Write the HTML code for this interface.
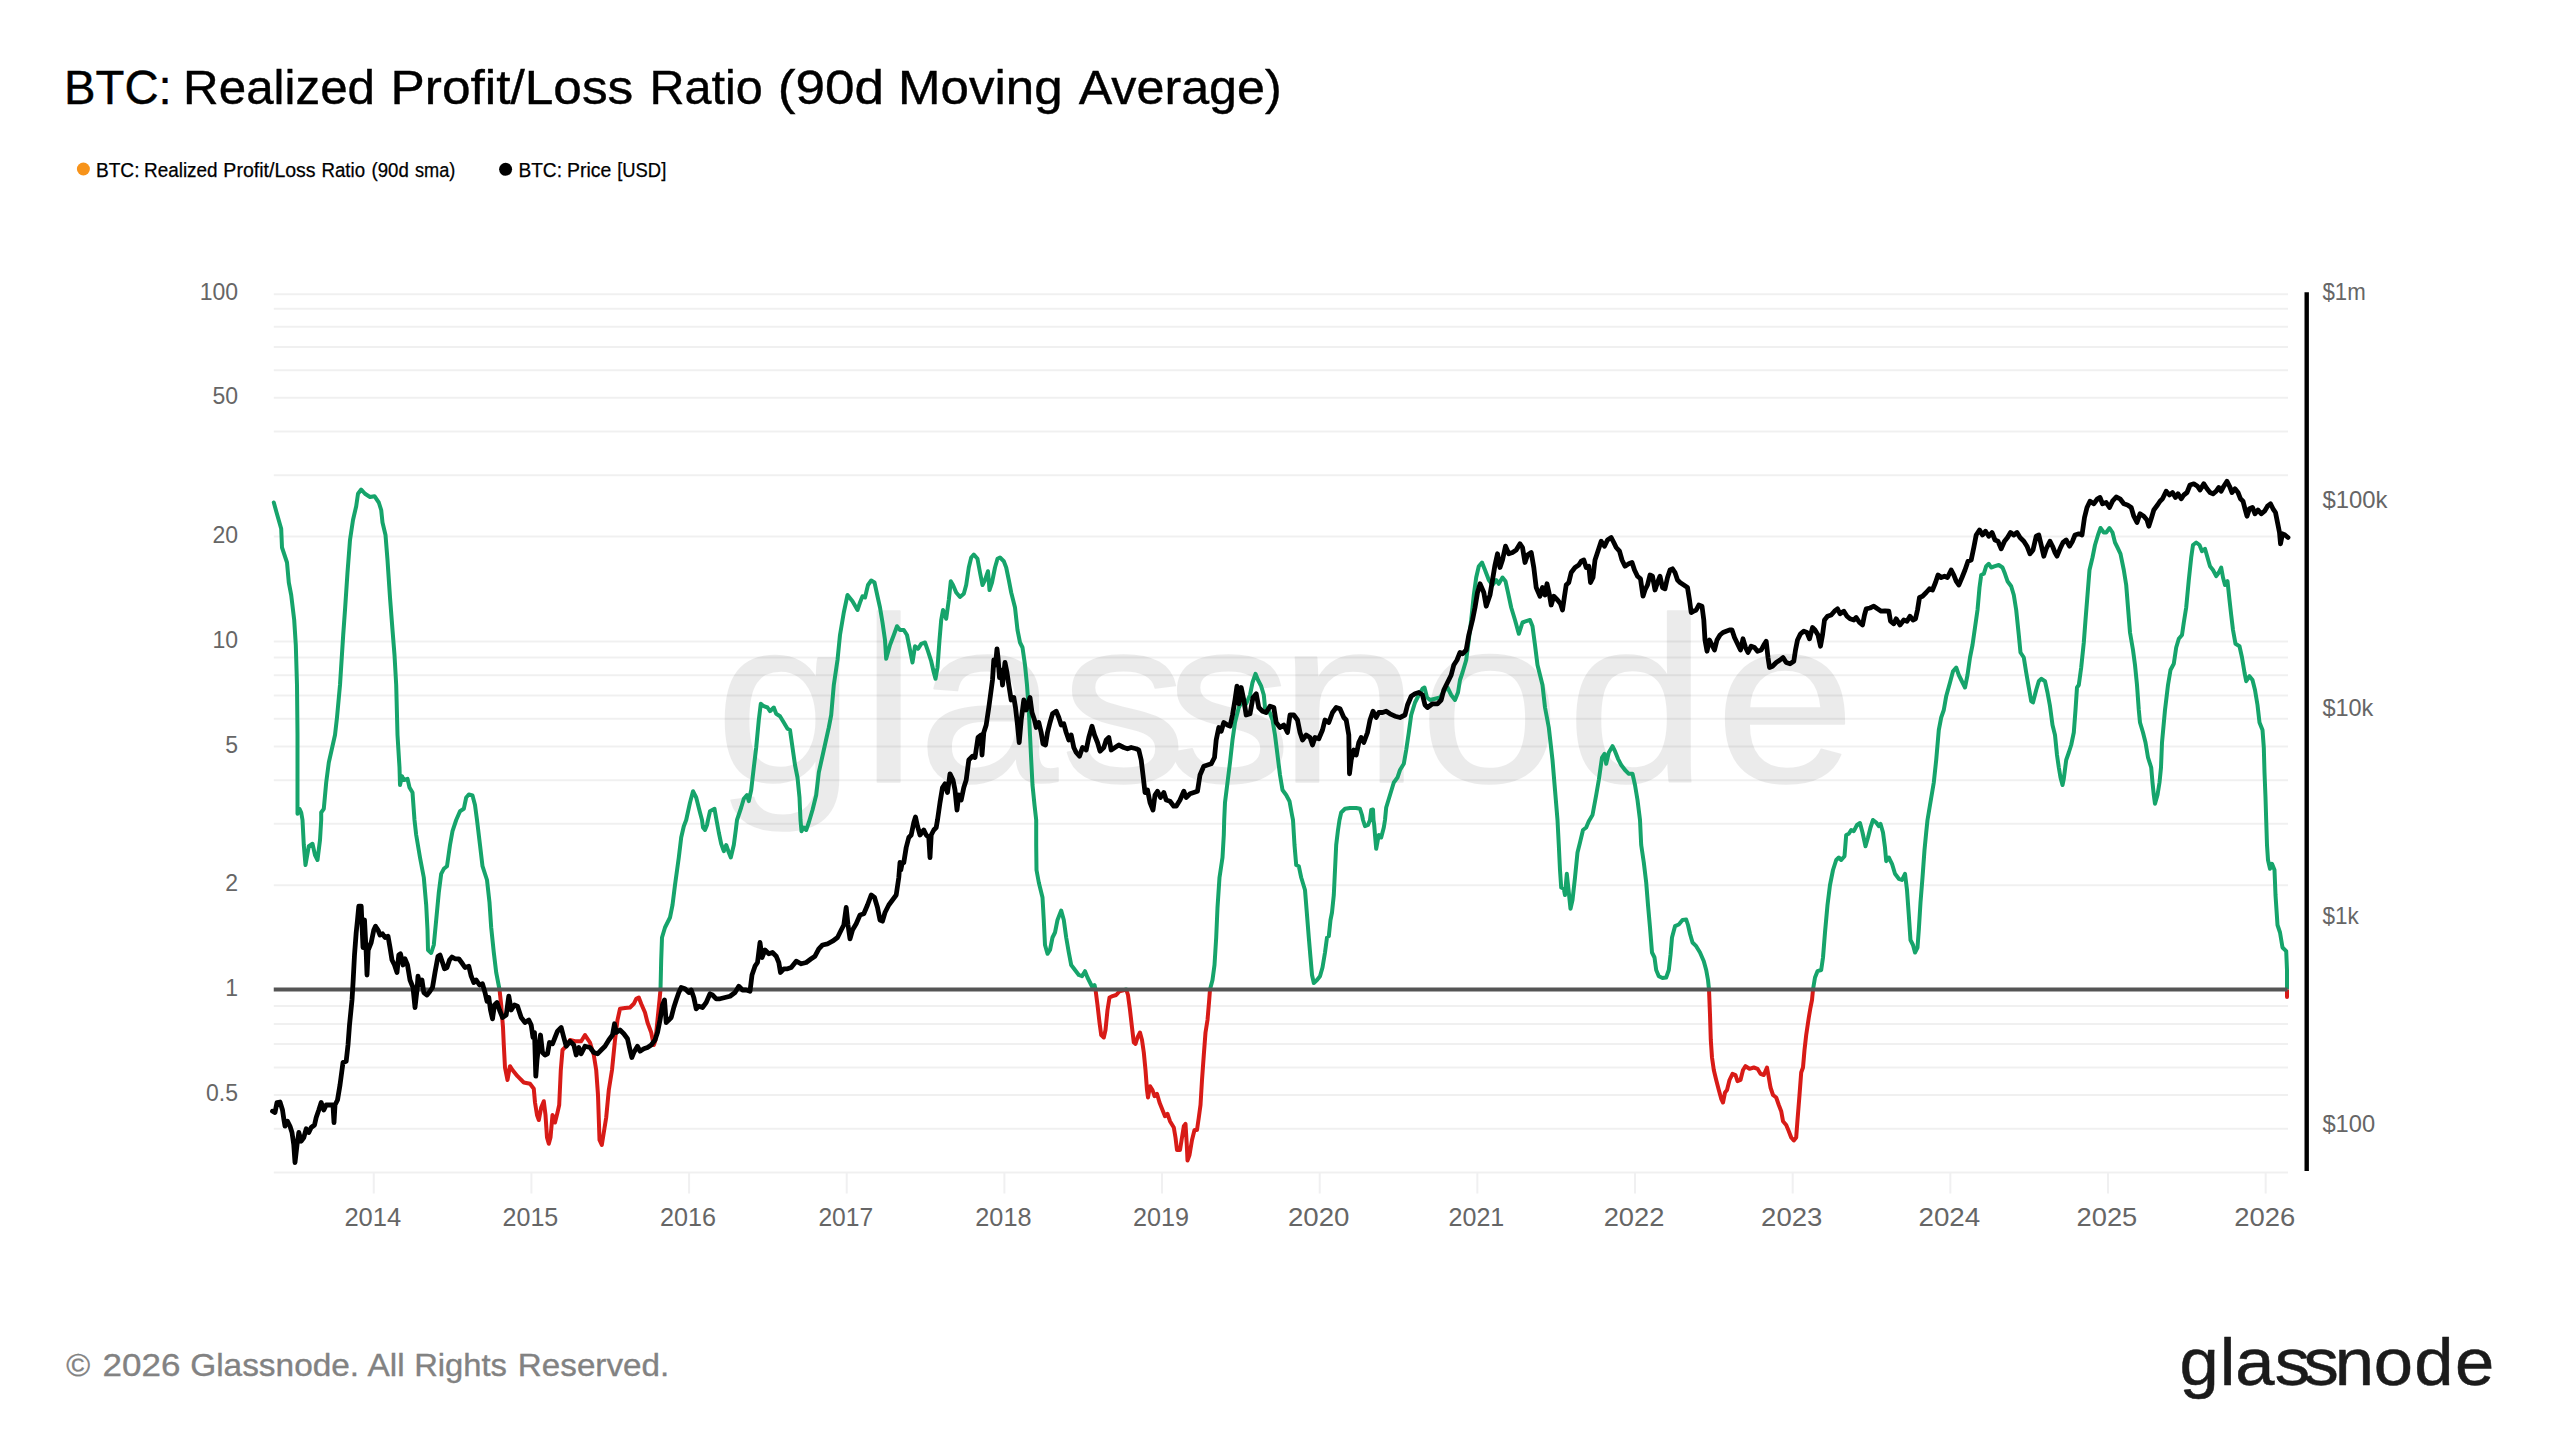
<!DOCTYPE html>
<html lang="en"><head><meta charset="utf-8"><title>BTC: Realized Profit/Loss Ratio (90d Moving Average)</title>
<style>html,body{margin:0;padding:0;background:#fff;width:2560px;height:1440px;overflow:hidden}</style></head>
<body>
<svg width="2560" height="1440" viewBox="0 0 2560 1440" style="position:absolute;left:0;top:0">
<rect width="2560" height="1440" fill="#ffffff"/>
<text x="668.3 804.2 857.4 991.2 1089.2 1195.1 1326.6 1464.0 1602.7" y="781.6" font-family="'Liberation Sans',sans-serif" font-size="236" fill="#000" stroke="#000" stroke-width="1.6" stroke-linejoin="round" opacity="0.075" transform="scale(1.07,1)">glassnode</text>
<path d="M273.75 294.30H2288.00 M273.75 308.85H2288.00 M273.75 326.68H2288.00 M273.75 346.90H2288.00 M273.75 370.24H2288.00 M273.75 397.84H2288.00 M273.75 431.62H2288.00 M273.75 475.18H2288.00 M273.75 536.56H2288.00 M273.75 641.50H2288.00 M273.75 657.45H2288.00 M273.75 675.28H2288.00 M273.75 695.50H2288.00 M273.75 718.84H2288.00 M273.75 746.44H2288.00 M273.75 780.22H2288.00 M273.75 823.78H2288.00 M273.75 885.16H2288.00 M273.75 1006.05H2288.00 M273.75 1023.88H2288.00 M273.75 1044.10H2288.00 M273.75 1067.44H2288.00 M273.75 1095.04H2288.00 M273.75 1128.82H2288.00 M273.75 1172.38H2288.00" stroke="#000" stroke-opacity="0.06" stroke-width="2" fill="none"/>
<path d="M373.75 1172.40V1193.50 M531.41 1172.40V1193.50 M689.07 1172.40V1193.50 M846.73 1172.40V1193.50 M1004.39 1172.40V1193.50 M1162.05 1172.40V1193.50 M1319.71 1172.40V1193.50 M1477.37 1172.40V1193.50 M1635.03 1172.40V1193.50 M1792.69 1172.40V1193.50 M1950.35 1172.40V1193.50 M2108.01 1172.40V1193.50 M2265.67 1172.40V1193.50" stroke="#f0f0f1" stroke-width="2" fill="none"/>
<defs><clipPath id="ca"><rect x="0" y="0" width="2560" height="989.5"/></clipPath><clipPath id="cb"><rect x="0" y="989.5" width="2560" height="450.5"/></clipPath></defs>
<path d="M273.8 502.5 L276.2 511.2 L281.2 528.8 L282.0 547.5 L287.0 562.5 L288.8 582.5 L291.2 595.0 L294.2 620.0 L295.8 645.0 L297.0 685.0 L297.5 735.0 L297.5 808.8 L297.5 813.8 L299.5 808.8 L301.2 812.5 L302.5 820.0 L303.8 845.0 L305.5 865.0 L308.8 846.2 L312.5 843.8 L315.0 855.0 L317.5 860.0 L320.0 840.0 L321.2 820.0 L321.2 812.5 L323.8 808.8 L326.2 782.5 L328.8 762.5 L335.0 735.0 L337.0 717.5 L340.0 685.0 L343.2 635.0 L345.0 610.0 L347.5 572.5 L350.0 540.0 L353.0 520.0 L356.2 506.2 L358.0 493.8 L361.2 489.5 L365.0 493.8 L370.0 497.0 L374.5 496.2 L378.8 502.5 L381.2 510.0 L382.5 522.5 L385.5 535.0 L387.5 560.0 L390.0 597.5 L392.5 630.0 L394.5 655.0 L396.2 685.0 L397.5 735.0 L399.5 767.5 L400.0 785.0 L402.0 776.2 L403.8 780.0 L407.5 778.8 L409.5 787.5 L412.5 792.5 L414.5 820.0 L416.2 835.0 L420.0 857.5 L423.8 877.5 L426.2 905.0 L427.5 930.0 L428.0 950.0 L431.2 953.0 L433.8 945.0 L436.2 920.0 L438.8 892.5 L441.2 873.8 L443.8 868.8 L447.0 866.2 L450.0 845.0 L452.5 831.2 L456.2 820.0 L460.0 811.2 L463.8 808.8 L466.2 797.5 L468.8 794.5 L472.5 795.5 L475.0 805.0 L477.0 820.0 L480.0 845.0 L482.5 866.2 L487.0 880.0 L489.5 902.5 L491.2 927.5 L493.8 952.5 L496.2 972.5 L499.5 989.5 L501.2 1005.0 L503.0 1027.5 L503.8 1045.0 L505.0 1067.5 L507.5 1080.0 L510.0 1066.2 L512.5 1070.0 L517.5 1076.2 L523.8 1082.5 L530.0 1083.8 L533.8 1088.8 L535.0 1102.5 L537.0 1115.0 L538.8 1120.0 L541.2 1107.5 L543.8 1101.2 L545.5 1115.0 L547.0 1137.5 L548.8 1143.8 L550.5 1137.5 L552.5 1115.0 L555.0 1122.5 L557.5 1112.5 L559.2 1105.0 L560.8 1070.0 L562.5 1050.0 L566.2 1046.2 L570.0 1040.0 L575.0 1041.2 L581.2 1041.2 L585.0 1035.0 L587.5 1038.8 L590.0 1042.5 L593.8 1055.0 L596.2 1070.0 L598.0 1095.0 L599.5 1140.0 L601.8 1145.0 L603.8 1132.5 L606.2 1117.5 L608.8 1090.0 L612.0 1070.0 L615.0 1040.0 L617.5 1020.0 L620.0 1008.8 L625.0 1008.0 L630.0 1007.5 L633.8 1003.8 L636.2 998.8 L638.8 997.5 L641.2 1003.8 L645.0 1012.5 L647.5 1022.5 L651.2 1032.5 L653.8 1045.0 L655.5 1040.0 L657.5 1020.0 L659.5 1000.0 L660.5 989.5 L661.2 960.0 L662.0 937.5 L665.0 927.5 L670.0 917.5 L672.5 905.0 L675.0 885.0 L678.8 857.5 L681.2 837.5 L683.8 826.2 L686.2 820.0 L690.0 802.5 L693.0 791.2 L696.2 797.5 L700.0 812.5 L702.0 820.0 L703.0 827.5 L705.0 830.0 L707.0 825.0 L708.0 820.0 L710.0 811.2 L714.5 808.8 L716.5 820.0 L718.8 832.5 L721.2 843.8 L723.8 851.2 L726.2 845.0 L728.8 852.5 L730.8 857.5 L733.8 845.0 L735.8 830.0 L737.0 820.0 L741.2 807.5 L743.8 798.8 L747.0 795.0 L748.8 801.2 L751.2 790.0 L753.8 767.5 L756.2 747.5 L758.8 720.0 L760.8 703.8 L763.8 706.2 L767.5 707.5 L770.0 711.2 L773.8 707.5 L776.2 713.8 L780.0 716.2 L783.8 722.5 L787.5 728.8 L790.0 730.0 L792.5 747.5 L795.0 765.0 L797.5 777.5 L799.5 797.5 L800.5 820.0 L801.5 831.2 L803.8 827.5 L806.2 830.0 L808.8 822.5 L812.5 810.0 L816.2 795.0 L818.8 772.5 L823.8 750.0 L828.8 727.5 L831.2 715.0 L833.8 685.0 L837.5 660.0 L840.0 635.0 L843.8 612.5 L847.5 595.0 L852.5 601.2 L857.5 610.0 L860.0 602.5 L862.5 596.2 L865.0 597.5 L868.0 585.0 L871.2 580.5 L874.5 582.5 L877.5 596.2 L880.0 607.5 L882.5 622.5 L885.0 640.0 L886.2 658.8 L890.0 645.0 L893.8 635.0 L897.0 626.2 L900.0 630.0 L903.8 630.0 L907.0 635.0 L910.0 650.0 L912.5 662.5 L915.0 646.2 L918.0 648.8 L921.2 643.8 L925.0 642.5 L928.0 651.2 L931.2 661.2 L933.8 672.5 L935.5 678.8 L937.5 667.5 L939.5 640.0 L941.2 620.0 L943.0 610.0 L946.2 618.8 L948.8 600.0 L950.8 581.2 L953.0 585.0 L956.2 592.5 L960.0 597.0 L963.8 593.8 L966.2 585.0 L968.8 567.5 L971.2 557.5 L973.8 554.5 L977.5 558.8 L980.0 572.5 L982.5 585.0 L985.0 580.0 L988.0 571.2 L989.5 590.0 L992.0 582.5 L995.0 567.5 L997.5 558.8 L1000.0 557.5 L1003.8 561.2 L1006.2 567.5 L1008.8 580.0 L1011.2 592.5 L1015.0 607.5 L1017.5 630.0 L1020.0 642.5 L1022.5 647.5 L1025.0 665.0 L1027.0 685.0 L1028.8 710.0 L1030.0 735.0 L1031.2 760.0 L1032.5 785.0 L1034.5 805.0 L1036.2 820.0 L1036.2 845.0 L1036.5 870.0 L1038.8 882.5 L1042.5 897.5 L1043.8 920.0 L1045.0 945.0 L1047.5 953.8 L1050.0 950.0 L1052.5 937.5 L1055.0 932.5 L1057.5 920.0 L1061.2 910.5 L1063.8 920.0 L1066.2 937.5 L1068.8 952.5 L1071.2 965.0 L1075.0 970.0 L1078.8 975.0 L1082.0 976.2 L1085.0 971.2 L1087.5 977.5 L1090.0 982.5 L1092.5 987.5 L1094.5 985.0 L1095.5 989.5 L1097.5 1005.0 L1099.5 1022.5 L1101.2 1035.0 L1103.8 1037.5 L1105.5 1030.0 L1107.5 1010.0 L1109.5 997.5 L1112.5 996.2 L1116.2 995.0 L1119.5 991.2 L1122.5 990.5 L1126.2 989.5 L1128.0 995.0 L1130.0 1010.0 L1132.0 1027.5 L1133.8 1042.5 L1135.5 1043.8 L1137.5 1037.5 L1140.0 1032.5 L1142.0 1040.0 L1143.8 1052.5 L1145.5 1070.0 L1147.0 1090.0 L1148.0 1097.5 L1150.0 1086.2 L1152.5 1090.0 L1154.5 1096.2 L1157.0 1093.8 L1159.5 1102.5 L1162.5 1110.0 L1165.0 1116.2 L1167.5 1113.8 L1170.0 1121.2 L1173.8 1127.5 L1175.5 1137.5 L1177.0 1150.0 L1180.0 1150.0 L1182.0 1137.5 L1183.8 1126.2 L1185.5 1123.8 L1186.8 1145.0 L1187.5 1160.5 L1189.5 1155.0 L1192.0 1140.0 L1194.5 1130.0 L1197.0 1130.0 L1198.8 1117.5 L1200.5 1105.0 L1202.0 1080.0 L1203.8 1055.0 L1205.5 1032.5 L1207.5 1020.0 L1209.0 1002.5 L1210.0 989.5 L1212.5 980.0 L1214.5 965.0 L1216.2 937.5 L1217.5 907.5 L1219.5 877.5 L1222.5 857.5 L1223.8 835.0 L1224.2 820.0 L1225.0 802.5 L1227.5 782.5 L1230.0 762.5 L1232.5 740.0 L1235.0 722.5 L1238.8 707.5 L1242.5 700.0 L1246.2 703.8 L1250.0 695.0 L1252.5 682.5 L1255.5 673.8 L1258.0 680.0 L1261.2 686.2 L1263.8 695.0 L1265.5 712.5 L1268.8 710.0 L1272.5 720.0 L1275.0 735.0 L1277.5 755.0 L1280.0 775.0 L1282.5 790.0 L1286.2 795.0 L1289.5 801.2 L1292.0 815.0 L1293.0 820.0 L1294.5 845.0 L1296.2 865.0 L1298.8 866.2 L1301.2 877.5 L1305.0 890.0 L1307.0 915.0 L1308.8 937.5 L1310.5 957.5 L1312.0 975.0 L1313.8 983.0 L1317.0 980.0 L1320.0 976.2 L1322.5 967.5 L1325.0 952.5 L1327.0 937.5 L1328.8 936.2 L1330.5 920.0 L1332.0 912.5 L1333.8 895.0 L1335.0 870.0 L1336.2 845.0 L1338.0 830.0 L1339.5 820.0 L1341.2 812.5 L1345.0 808.8 L1350.0 808.0 L1356.2 808.0 L1360.0 808.8 L1362.0 815.0 L1363.0 820.0 L1365.0 826.2 L1368.0 825.0 L1370.0 820.0 L1371.2 810.0 L1373.0 809.5 L1373.5 820.0 L1374.2 825.0 L1375.0 835.0 L1376.2 848.8 L1378.8 835.0 L1381.2 837.5 L1383.8 827.5 L1385.0 820.0 L1386.2 807.5 L1390.0 795.0 L1393.8 782.5 L1397.5 777.5 L1400.0 770.0 L1403.8 763.8 L1406.2 750.0 L1408.8 732.5 L1411.2 715.0 L1415.0 702.5 L1418.8 695.0 L1422.5 688.8 L1424.5 687.5 L1427.0 697.5 L1430.0 700.0 L1435.0 698.8 L1440.0 697.5 L1443.8 691.2 L1447.5 687.5 L1451.2 695.0 L1455.0 700.0 L1458.0 692.5 L1460.0 680.0 L1462.5 672.5 L1466.2 660.0 L1468.8 640.0 L1471.2 620.0 L1473.8 595.0 L1476.2 577.5 L1478.8 566.2 L1482.0 562.5 L1485.0 570.0 L1488.8 580.0 L1492.5 585.0 L1496.2 580.0 L1498.8 583.8 L1502.5 577.5 L1505.5 581.2 L1508.0 592.5 L1511.2 607.5 L1515.0 620.0 L1518.8 633.8 L1522.5 622.5 L1526.2 621.2 L1530.0 620.0 L1532.5 626.2 L1535.0 645.0 L1537.5 665.0 L1540.0 675.0 L1542.5 685.0 L1545.0 707.5 L1548.8 727.5 L1552.5 760.0 L1555.0 790.0 L1557.5 820.0 L1558.8 845.0 L1560.0 870.0 L1561.2 887.5 L1563.8 888.8 L1565.0 895.0 L1566.8 873.8 L1568.8 892.5 L1570.5 908.8 L1572.5 900.0 L1575.0 877.5 L1577.5 852.5 L1580.0 842.5 L1583.0 830.0 L1586.2 827.5 L1588.8 821.2 L1592.5 815.0 L1596.2 795.0 L1598.8 780.0 L1602.0 757.5 L1604.5 753.8 L1606.2 763.8 L1608.8 752.5 L1612.5 746.2 L1615.0 751.2 L1618.0 758.8 L1621.2 765.0 L1625.0 770.0 L1628.8 773.8 L1632.5 773.8 L1635.0 785.0 L1637.5 800.0 L1640.0 820.0 L1641.2 845.0 L1643.8 862.5 L1646.2 882.5 L1648.0 905.0 L1650.0 927.5 L1652.0 952.5 L1654.5 957.5 L1656.2 970.0 L1658.8 976.2 L1662.5 978.0 L1666.2 977.5 L1668.8 970.0 L1670.5 955.0 L1672.0 937.5 L1675.0 926.2 L1678.8 924.5 L1682.5 920.0 L1686.2 919.5 L1688.0 925.0 L1690.0 933.8 L1692.5 942.5 L1696.2 946.2 L1700.0 952.5 L1703.8 961.2 L1706.2 970.0 L1708.0 980.0 L1709.0 989.5 L1710.0 1015.0 L1710.8 1040.0 L1712.0 1057.5 L1713.8 1070.0 L1716.2 1080.0 L1718.8 1090.0 L1721.2 1098.8 L1723.0 1102.5 L1725.0 1092.5 L1727.0 1090.0 L1729.5 1080.0 L1732.5 1073.8 L1735.5 1075.0 L1737.5 1081.2 L1740.5 1080.0 L1743.0 1070.0 L1745.5 1066.2 L1749.5 1068.8 L1753.8 1067.5 L1757.5 1068.8 L1760.5 1073.8 L1763.8 1075.0 L1767.0 1067.5 L1768.8 1077.5 L1770.5 1087.5 L1773.0 1095.0 L1776.2 1097.5 L1778.8 1105.0 L1781.2 1111.2 L1783.0 1121.2 L1786.2 1125.0 L1788.8 1131.2 L1791.2 1137.5 L1793.8 1140.5 L1796.2 1137.5 L1797.5 1120.0 L1799.5 1095.0 L1801.2 1072.5 L1803.0 1067.5 L1804.5 1050.0 L1806.2 1035.0 L1808.8 1017.5 L1810.5 1007.5 L1812.0 1000.0 L1813.0 989.5 L1815.0 977.5 L1817.5 971.2 L1821.2 970.0 L1823.0 957.5 L1825.0 932.5 L1827.5 905.0 L1830.0 885.0 L1833.0 870.0 L1836.2 860.0 L1838.8 857.5 L1841.2 860.0 L1844.5 856.2 L1846.2 835.0 L1848.8 833.8 L1851.2 830.0 L1853.8 831.2 L1857.0 825.0 L1860.0 823.0 L1862.5 832.5 L1865.5 846.2 L1868.0 837.5 L1870.5 827.5 L1873.0 820.0 L1876.2 822.5 L1878.8 826.2 L1880.5 823.8 L1883.0 832.5 L1885.0 847.5 L1886.2 861.2 L1888.8 857.5 L1892.0 863.8 L1895.0 873.8 L1898.8 878.8 L1902.0 880.0 L1905.0 873.8 L1907.0 890.0 L1908.8 915.0 L1910.5 940.0 L1913.0 945.0 L1915.0 952.5 L1917.5 947.5 L1918.8 930.0 L1920.5 902.5 L1922.5 877.5 L1924.5 850.0 L1926.2 832.5 L1927.5 820.0 L1930.0 805.0 L1933.8 782.5 L1936.2 760.0 L1938.8 730.0 L1941.2 717.5 L1943.8 710.0 L1946.2 696.2 L1950.0 682.5 L1953.0 671.2 L1956.2 667.5 L1958.8 675.0 L1962.5 682.5 L1965.0 687.5 L1967.5 675.0 L1970.0 657.5 L1972.5 645.0 L1975.0 627.5 L1977.5 610.0 L1979.5 587.5 L1981.2 575.0 L1983.8 573.8 L1986.2 566.2 L1988.8 563.8 L1991.2 567.5 L1995.0 566.2 L1998.8 565.0 L2002.5 567.5 L2005.0 573.8 L2007.5 581.2 L2011.2 586.2 L2013.8 595.0 L2016.2 610.0 L2018.8 635.0 L2020.5 652.5 L2023.8 657.5 L2026.2 672.5 L2028.8 687.5 L2031.2 701.2 L2033.0 702.5 L2036.2 690.0 L2038.8 681.2 L2041.2 678.8 L2045.0 681.2 L2047.5 692.5 L2050.0 706.2 L2052.5 725.0 L2055.0 735.0 L2057.0 755.0 L2058.8 767.5 L2060.5 777.5 L2062.5 785.0 L2063.8 778.8 L2066.2 760.0 L2068.8 752.5 L2071.2 745.0 L2073.8 732.5 L2075.5 710.0 L2077.0 687.5 L2078.8 685.0 L2081.2 667.5 L2083.8 642.5 L2085.5 620.0 L2087.5 595.0 L2089.5 570.0 L2092.5 557.5 L2095.0 545.0 L2098.0 535.0 L2100.5 528.0 L2103.8 532.5 L2106.2 532.5 L2109.5 528.0 L2112.5 532.5 L2115.0 542.5 L2117.5 547.5 L2120.5 553.8 L2123.8 570.0 L2126.2 585.0 L2128.0 607.5 L2130.0 632.5 L2133.0 650.0 L2135.0 665.0 L2137.0 685.0 L2138.8 710.0 L2140.0 722.5 L2143.0 732.5 L2145.5 742.5 L2148.0 757.5 L2151.2 767.5 L2152.5 782.5 L2153.8 795.0 L2155.0 803.8 L2157.5 795.0 L2159.5 782.5 L2161.0 767.5 L2162.0 742.5 L2165.0 710.0 L2168.0 685.0 L2170.5 670.0 L2173.8 663.8 L2176.2 647.5 L2178.8 638.8 L2182.0 635.0 L2183.8 622.5 L2186.2 607.5 L2188.8 580.0 L2191.2 557.5 L2193.0 545.0 L2196.2 542.5 L2199.5 545.0 L2202.0 551.2 L2205.0 548.8 L2207.5 557.5 L2210.0 566.2 L2213.0 570.0 L2216.2 576.2 L2218.8 572.5 L2221.2 567.5 L2223.0 577.5 L2225.0 585.0 L2227.5 581.2 L2229.5 600.0 L2231.2 615.0 L2233.0 630.0 L2235.5 643.8 L2239.5 646.2 L2242.0 657.5 L2244.5 672.5 L2246.2 681.2 L2249.5 676.2 L2252.5 680.0 L2255.0 690.0 L2257.5 705.0 L2259.5 722.5 L2262.5 730.0 L2263.8 747.5 L2264.5 772.5 L2265.5 797.5 L2266.2 820.0 L2267.0 845.0 L2268.0 860.0 L2270.0 868.8 L2272.0 863.8 L2274.5 870.0 L2275.5 895.0 L2277.5 925.0 L2280.0 932.5 L2282.5 947.5 L2286.2 951.2 L2287.0 970.0 L2287.0 989.5 L2287.0 997.0" clip-path="url(#ca)" stroke="#16a46b" stroke-width="4" fill="none" stroke-linejoin="round" stroke-linecap="round"/>
<path d="M273.8 502.5 L276.2 511.2 L281.2 528.8 L282.0 547.5 L287.0 562.5 L288.8 582.5 L291.2 595.0 L294.2 620.0 L295.8 645.0 L297.0 685.0 L297.5 735.0 L297.5 808.8 L297.5 813.8 L299.5 808.8 L301.2 812.5 L302.5 820.0 L303.8 845.0 L305.5 865.0 L308.8 846.2 L312.5 843.8 L315.0 855.0 L317.5 860.0 L320.0 840.0 L321.2 820.0 L321.2 812.5 L323.8 808.8 L326.2 782.5 L328.8 762.5 L335.0 735.0 L337.0 717.5 L340.0 685.0 L343.2 635.0 L345.0 610.0 L347.5 572.5 L350.0 540.0 L353.0 520.0 L356.2 506.2 L358.0 493.8 L361.2 489.5 L365.0 493.8 L370.0 497.0 L374.5 496.2 L378.8 502.5 L381.2 510.0 L382.5 522.5 L385.5 535.0 L387.5 560.0 L390.0 597.5 L392.5 630.0 L394.5 655.0 L396.2 685.0 L397.5 735.0 L399.5 767.5 L400.0 785.0 L402.0 776.2 L403.8 780.0 L407.5 778.8 L409.5 787.5 L412.5 792.5 L414.5 820.0 L416.2 835.0 L420.0 857.5 L423.8 877.5 L426.2 905.0 L427.5 930.0 L428.0 950.0 L431.2 953.0 L433.8 945.0 L436.2 920.0 L438.8 892.5 L441.2 873.8 L443.8 868.8 L447.0 866.2 L450.0 845.0 L452.5 831.2 L456.2 820.0 L460.0 811.2 L463.8 808.8 L466.2 797.5 L468.8 794.5 L472.5 795.5 L475.0 805.0 L477.0 820.0 L480.0 845.0 L482.5 866.2 L487.0 880.0 L489.5 902.5 L491.2 927.5 L493.8 952.5 L496.2 972.5 L499.5 989.5 L501.2 1005.0 L503.0 1027.5 L503.8 1045.0 L505.0 1067.5 L507.5 1080.0 L510.0 1066.2 L512.5 1070.0 L517.5 1076.2 L523.8 1082.5 L530.0 1083.8 L533.8 1088.8 L535.0 1102.5 L537.0 1115.0 L538.8 1120.0 L541.2 1107.5 L543.8 1101.2 L545.5 1115.0 L547.0 1137.5 L548.8 1143.8 L550.5 1137.5 L552.5 1115.0 L555.0 1122.5 L557.5 1112.5 L559.2 1105.0 L560.8 1070.0 L562.5 1050.0 L566.2 1046.2 L570.0 1040.0 L575.0 1041.2 L581.2 1041.2 L585.0 1035.0 L587.5 1038.8 L590.0 1042.5 L593.8 1055.0 L596.2 1070.0 L598.0 1095.0 L599.5 1140.0 L601.8 1145.0 L603.8 1132.5 L606.2 1117.5 L608.8 1090.0 L612.0 1070.0 L615.0 1040.0 L617.5 1020.0 L620.0 1008.8 L625.0 1008.0 L630.0 1007.5 L633.8 1003.8 L636.2 998.8 L638.8 997.5 L641.2 1003.8 L645.0 1012.5 L647.5 1022.5 L651.2 1032.5 L653.8 1045.0 L655.5 1040.0 L657.5 1020.0 L659.5 1000.0 L660.5 989.5 L661.2 960.0 L662.0 937.5 L665.0 927.5 L670.0 917.5 L672.5 905.0 L675.0 885.0 L678.8 857.5 L681.2 837.5 L683.8 826.2 L686.2 820.0 L690.0 802.5 L693.0 791.2 L696.2 797.5 L700.0 812.5 L702.0 820.0 L703.0 827.5 L705.0 830.0 L707.0 825.0 L708.0 820.0 L710.0 811.2 L714.5 808.8 L716.5 820.0 L718.8 832.5 L721.2 843.8 L723.8 851.2 L726.2 845.0 L728.8 852.5 L730.8 857.5 L733.8 845.0 L735.8 830.0 L737.0 820.0 L741.2 807.5 L743.8 798.8 L747.0 795.0 L748.8 801.2 L751.2 790.0 L753.8 767.5 L756.2 747.5 L758.8 720.0 L760.8 703.8 L763.8 706.2 L767.5 707.5 L770.0 711.2 L773.8 707.5 L776.2 713.8 L780.0 716.2 L783.8 722.5 L787.5 728.8 L790.0 730.0 L792.5 747.5 L795.0 765.0 L797.5 777.5 L799.5 797.5 L800.5 820.0 L801.5 831.2 L803.8 827.5 L806.2 830.0 L808.8 822.5 L812.5 810.0 L816.2 795.0 L818.8 772.5 L823.8 750.0 L828.8 727.5 L831.2 715.0 L833.8 685.0 L837.5 660.0 L840.0 635.0 L843.8 612.5 L847.5 595.0 L852.5 601.2 L857.5 610.0 L860.0 602.5 L862.5 596.2 L865.0 597.5 L868.0 585.0 L871.2 580.5 L874.5 582.5 L877.5 596.2 L880.0 607.5 L882.5 622.5 L885.0 640.0 L886.2 658.8 L890.0 645.0 L893.8 635.0 L897.0 626.2 L900.0 630.0 L903.8 630.0 L907.0 635.0 L910.0 650.0 L912.5 662.5 L915.0 646.2 L918.0 648.8 L921.2 643.8 L925.0 642.5 L928.0 651.2 L931.2 661.2 L933.8 672.5 L935.5 678.8 L937.5 667.5 L939.5 640.0 L941.2 620.0 L943.0 610.0 L946.2 618.8 L948.8 600.0 L950.8 581.2 L953.0 585.0 L956.2 592.5 L960.0 597.0 L963.8 593.8 L966.2 585.0 L968.8 567.5 L971.2 557.5 L973.8 554.5 L977.5 558.8 L980.0 572.5 L982.5 585.0 L985.0 580.0 L988.0 571.2 L989.5 590.0 L992.0 582.5 L995.0 567.5 L997.5 558.8 L1000.0 557.5 L1003.8 561.2 L1006.2 567.5 L1008.8 580.0 L1011.2 592.5 L1015.0 607.5 L1017.5 630.0 L1020.0 642.5 L1022.5 647.5 L1025.0 665.0 L1027.0 685.0 L1028.8 710.0 L1030.0 735.0 L1031.2 760.0 L1032.5 785.0 L1034.5 805.0 L1036.2 820.0 L1036.2 845.0 L1036.5 870.0 L1038.8 882.5 L1042.5 897.5 L1043.8 920.0 L1045.0 945.0 L1047.5 953.8 L1050.0 950.0 L1052.5 937.5 L1055.0 932.5 L1057.5 920.0 L1061.2 910.5 L1063.8 920.0 L1066.2 937.5 L1068.8 952.5 L1071.2 965.0 L1075.0 970.0 L1078.8 975.0 L1082.0 976.2 L1085.0 971.2 L1087.5 977.5 L1090.0 982.5 L1092.5 987.5 L1094.5 985.0 L1095.5 989.5 L1097.5 1005.0 L1099.5 1022.5 L1101.2 1035.0 L1103.8 1037.5 L1105.5 1030.0 L1107.5 1010.0 L1109.5 997.5 L1112.5 996.2 L1116.2 995.0 L1119.5 991.2 L1122.5 990.5 L1126.2 989.5 L1128.0 995.0 L1130.0 1010.0 L1132.0 1027.5 L1133.8 1042.5 L1135.5 1043.8 L1137.5 1037.5 L1140.0 1032.5 L1142.0 1040.0 L1143.8 1052.5 L1145.5 1070.0 L1147.0 1090.0 L1148.0 1097.5 L1150.0 1086.2 L1152.5 1090.0 L1154.5 1096.2 L1157.0 1093.8 L1159.5 1102.5 L1162.5 1110.0 L1165.0 1116.2 L1167.5 1113.8 L1170.0 1121.2 L1173.8 1127.5 L1175.5 1137.5 L1177.0 1150.0 L1180.0 1150.0 L1182.0 1137.5 L1183.8 1126.2 L1185.5 1123.8 L1186.8 1145.0 L1187.5 1160.5 L1189.5 1155.0 L1192.0 1140.0 L1194.5 1130.0 L1197.0 1130.0 L1198.8 1117.5 L1200.5 1105.0 L1202.0 1080.0 L1203.8 1055.0 L1205.5 1032.5 L1207.5 1020.0 L1209.0 1002.5 L1210.0 989.5 L1212.5 980.0 L1214.5 965.0 L1216.2 937.5 L1217.5 907.5 L1219.5 877.5 L1222.5 857.5 L1223.8 835.0 L1224.2 820.0 L1225.0 802.5 L1227.5 782.5 L1230.0 762.5 L1232.5 740.0 L1235.0 722.5 L1238.8 707.5 L1242.5 700.0 L1246.2 703.8 L1250.0 695.0 L1252.5 682.5 L1255.5 673.8 L1258.0 680.0 L1261.2 686.2 L1263.8 695.0 L1265.5 712.5 L1268.8 710.0 L1272.5 720.0 L1275.0 735.0 L1277.5 755.0 L1280.0 775.0 L1282.5 790.0 L1286.2 795.0 L1289.5 801.2 L1292.0 815.0 L1293.0 820.0 L1294.5 845.0 L1296.2 865.0 L1298.8 866.2 L1301.2 877.5 L1305.0 890.0 L1307.0 915.0 L1308.8 937.5 L1310.5 957.5 L1312.0 975.0 L1313.8 983.0 L1317.0 980.0 L1320.0 976.2 L1322.5 967.5 L1325.0 952.5 L1327.0 937.5 L1328.8 936.2 L1330.5 920.0 L1332.0 912.5 L1333.8 895.0 L1335.0 870.0 L1336.2 845.0 L1338.0 830.0 L1339.5 820.0 L1341.2 812.5 L1345.0 808.8 L1350.0 808.0 L1356.2 808.0 L1360.0 808.8 L1362.0 815.0 L1363.0 820.0 L1365.0 826.2 L1368.0 825.0 L1370.0 820.0 L1371.2 810.0 L1373.0 809.5 L1373.5 820.0 L1374.2 825.0 L1375.0 835.0 L1376.2 848.8 L1378.8 835.0 L1381.2 837.5 L1383.8 827.5 L1385.0 820.0 L1386.2 807.5 L1390.0 795.0 L1393.8 782.5 L1397.5 777.5 L1400.0 770.0 L1403.8 763.8 L1406.2 750.0 L1408.8 732.5 L1411.2 715.0 L1415.0 702.5 L1418.8 695.0 L1422.5 688.8 L1424.5 687.5 L1427.0 697.5 L1430.0 700.0 L1435.0 698.8 L1440.0 697.5 L1443.8 691.2 L1447.5 687.5 L1451.2 695.0 L1455.0 700.0 L1458.0 692.5 L1460.0 680.0 L1462.5 672.5 L1466.2 660.0 L1468.8 640.0 L1471.2 620.0 L1473.8 595.0 L1476.2 577.5 L1478.8 566.2 L1482.0 562.5 L1485.0 570.0 L1488.8 580.0 L1492.5 585.0 L1496.2 580.0 L1498.8 583.8 L1502.5 577.5 L1505.5 581.2 L1508.0 592.5 L1511.2 607.5 L1515.0 620.0 L1518.8 633.8 L1522.5 622.5 L1526.2 621.2 L1530.0 620.0 L1532.5 626.2 L1535.0 645.0 L1537.5 665.0 L1540.0 675.0 L1542.5 685.0 L1545.0 707.5 L1548.8 727.5 L1552.5 760.0 L1555.0 790.0 L1557.5 820.0 L1558.8 845.0 L1560.0 870.0 L1561.2 887.5 L1563.8 888.8 L1565.0 895.0 L1566.8 873.8 L1568.8 892.5 L1570.5 908.8 L1572.5 900.0 L1575.0 877.5 L1577.5 852.5 L1580.0 842.5 L1583.0 830.0 L1586.2 827.5 L1588.8 821.2 L1592.5 815.0 L1596.2 795.0 L1598.8 780.0 L1602.0 757.5 L1604.5 753.8 L1606.2 763.8 L1608.8 752.5 L1612.5 746.2 L1615.0 751.2 L1618.0 758.8 L1621.2 765.0 L1625.0 770.0 L1628.8 773.8 L1632.5 773.8 L1635.0 785.0 L1637.5 800.0 L1640.0 820.0 L1641.2 845.0 L1643.8 862.5 L1646.2 882.5 L1648.0 905.0 L1650.0 927.5 L1652.0 952.5 L1654.5 957.5 L1656.2 970.0 L1658.8 976.2 L1662.5 978.0 L1666.2 977.5 L1668.8 970.0 L1670.5 955.0 L1672.0 937.5 L1675.0 926.2 L1678.8 924.5 L1682.5 920.0 L1686.2 919.5 L1688.0 925.0 L1690.0 933.8 L1692.5 942.5 L1696.2 946.2 L1700.0 952.5 L1703.8 961.2 L1706.2 970.0 L1708.0 980.0 L1709.0 989.5 L1710.0 1015.0 L1710.8 1040.0 L1712.0 1057.5 L1713.8 1070.0 L1716.2 1080.0 L1718.8 1090.0 L1721.2 1098.8 L1723.0 1102.5 L1725.0 1092.5 L1727.0 1090.0 L1729.5 1080.0 L1732.5 1073.8 L1735.5 1075.0 L1737.5 1081.2 L1740.5 1080.0 L1743.0 1070.0 L1745.5 1066.2 L1749.5 1068.8 L1753.8 1067.5 L1757.5 1068.8 L1760.5 1073.8 L1763.8 1075.0 L1767.0 1067.5 L1768.8 1077.5 L1770.5 1087.5 L1773.0 1095.0 L1776.2 1097.5 L1778.8 1105.0 L1781.2 1111.2 L1783.0 1121.2 L1786.2 1125.0 L1788.8 1131.2 L1791.2 1137.5 L1793.8 1140.5 L1796.2 1137.5 L1797.5 1120.0 L1799.5 1095.0 L1801.2 1072.5 L1803.0 1067.5 L1804.5 1050.0 L1806.2 1035.0 L1808.8 1017.5 L1810.5 1007.5 L1812.0 1000.0 L1813.0 989.5 L1815.0 977.5 L1817.5 971.2 L1821.2 970.0 L1823.0 957.5 L1825.0 932.5 L1827.5 905.0 L1830.0 885.0 L1833.0 870.0 L1836.2 860.0 L1838.8 857.5 L1841.2 860.0 L1844.5 856.2 L1846.2 835.0 L1848.8 833.8 L1851.2 830.0 L1853.8 831.2 L1857.0 825.0 L1860.0 823.0 L1862.5 832.5 L1865.5 846.2 L1868.0 837.5 L1870.5 827.5 L1873.0 820.0 L1876.2 822.5 L1878.8 826.2 L1880.5 823.8 L1883.0 832.5 L1885.0 847.5 L1886.2 861.2 L1888.8 857.5 L1892.0 863.8 L1895.0 873.8 L1898.8 878.8 L1902.0 880.0 L1905.0 873.8 L1907.0 890.0 L1908.8 915.0 L1910.5 940.0 L1913.0 945.0 L1915.0 952.5 L1917.5 947.5 L1918.8 930.0 L1920.5 902.5 L1922.5 877.5 L1924.5 850.0 L1926.2 832.5 L1927.5 820.0 L1930.0 805.0 L1933.8 782.5 L1936.2 760.0 L1938.8 730.0 L1941.2 717.5 L1943.8 710.0 L1946.2 696.2 L1950.0 682.5 L1953.0 671.2 L1956.2 667.5 L1958.8 675.0 L1962.5 682.5 L1965.0 687.5 L1967.5 675.0 L1970.0 657.5 L1972.5 645.0 L1975.0 627.5 L1977.5 610.0 L1979.5 587.5 L1981.2 575.0 L1983.8 573.8 L1986.2 566.2 L1988.8 563.8 L1991.2 567.5 L1995.0 566.2 L1998.8 565.0 L2002.5 567.5 L2005.0 573.8 L2007.5 581.2 L2011.2 586.2 L2013.8 595.0 L2016.2 610.0 L2018.8 635.0 L2020.5 652.5 L2023.8 657.5 L2026.2 672.5 L2028.8 687.5 L2031.2 701.2 L2033.0 702.5 L2036.2 690.0 L2038.8 681.2 L2041.2 678.8 L2045.0 681.2 L2047.5 692.5 L2050.0 706.2 L2052.5 725.0 L2055.0 735.0 L2057.0 755.0 L2058.8 767.5 L2060.5 777.5 L2062.5 785.0 L2063.8 778.8 L2066.2 760.0 L2068.8 752.5 L2071.2 745.0 L2073.8 732.5 L2075.5 710.0 L2077.0 687.5 L2078.8 685.0 L2081.2 667.5 L2083.8 642.5 L2085.5 620.0 L2087.5 595.0 L2089.5 570.0 L2092.5 557.5 L2095.0 545.0 L2098.0 535.0 L2100.5 528.0 L2103.8 532.5 L2106.2 532.5 L2109.5 528.0 L2112.5 532.5 L2115.0 542.5 L2117.5 547.5 L2120.5 553.8 L2123.8 570.0 L2126.2 585.0 L2128.0 607.5 L2130.0 632.5 L2133.0 650.0 L2135.0 665.0 L2137.0 685.0 L2138.8 710.0 L2140.0 722.5 L2143.0 732.5 L2145.5 742.5 L2148.0 757.5 L2151.2 767.5 L2152.5 782.5 L2153.8 795.0 L2155.0 803.8 L2157.5 795.0 L2159.5 782.5 L2161.0 767.5 L2162.0 742.5 L2165.0 710.0 L2168.0 685.0 L2170.5 670.0 L2173.8 663.8 L2176.2 647.5 L2178.8 638.8 L2182.0 635.0 L2183.8 622.5 L2186.2 607.5 L2188.8 580.0 L2191.2 557.5 L2193.0 545.0 L2196.2 542.5 L2199.5 545.0 L2202.0 551.2 L2205.0 548.8 L2207.5 557.5 L2210.0 566.2 L2213.0 570.0 L2216.2 576.2 L2218.8 572.5 L2221.2 567.5 L2223.0 577.5 L2225.0 585.0 L2227.5 581.2 L2229.5 600.0 L2231.2 615.0 L2233.0 630.0 L2235.5 643.8 L2239.5 646.2 L2242.0 657.5 L2244.5 672.5 L2246.2 681.2 L2249.5 676.2 L2252.5 680.0 L2255.0 690.0 L2257.5 705.0 L2259.5 722.5 L2262.5 730.0 L2263.8 747.5 L2264.5 772.5 L2265.5 797.5 L2266.2 820.0 L2267.0 845.0 L2268.0 860.0 L2270.0 868.8 L2272.0 863.8 L2274.5 870.0 L2275.5 895.0 L2277.5 925.0 L2280.0 932.5 L2282.5 947.5 L2286.2 951.2 L2287.0 970.0 L2287.0 989.5 L2287.0 997.0" clip-path="url(#cb)" stroke="#d81b17" stroke-width="4" fill="none" stroke-linejoin="round" stroke-linecap="round"/>
<path d="M273.75 989.5H2287.5" stroke="#555555" stroke-width="3.8" fill="none"/>
<path d="M272.5 1111.2 L275.0 1112.5 L277.0 1102.5 L280.0 1102.0 L282.5 1110.0 L283.8 1118.8 L285.0 1126.2 L287.5 1121.2 L290.0 1126.2 L292.0 1132.5 L293.8 1145.0 L295.0 1162.5 L297.0 1145.0 L298.8 1132.5 L301.2 1141.2 L303.8 1137.5 L306.2 1128.8 L308.8 1132.5 L311.2 1127.5 L314.5 1125.0 L316.2 1117.5 L318.8 1110.0 L321.2 1102.5 L323.8 1110.0 L326.2 1105.0 L330.0 1105.0 L333.0 1105.0 L334.0 1122.5 L335.0 1105.0 L337.5 1100.0 L340.0 1085.0 L342.0 1070.0 L343.0 1062.5 L346.2 1061.2 L348.0 1045.0 L349.5 1025.0 L350.5 1015.0 L352.0 1000.0 L353.2 980.0 L354.5 955.0 L356.2 932.5 L357.5 920.0 L358.8 906.2 L361.2 906.2 L362.0 925.0 L363.0 947.5 L364.5 920.0 L366.2 952.5 L367.0 975.0 L368.2 950.0 L371.2 942.5 L373.8 930.0 L375.5 926.2 L378.0 930.0 L380.0 935.0 L382.5 933.8 L385.0 937.5 L388.0 936.2 L390.0 947.5 L392.0 960.0 L394.5 965.0 L397.0 972.5 L398.8 955.0 L400.5 953.8 L403.0 965.0 L405.0 958.8 L407.5 965.0 L410.0 980.0 L413.0 987.5 L415.0 1007.5 L417.0 990.0 L418.0 976.2 L420.0 985.0 L422.0 980.0 L423.8 992.5 L427.0 995.0 L430.0 991.2 L432.5 987.5 L435.0 972.5 L438.0 956.2 L440.0 955.0 L442.5 962.5 L444.5 968.8 L447.0 967.5 L449.5 960.0 L452.0 957.0 L455.0 958.8 L458.8 958.8 L462.5 963.8 L465.0 967.5 L468.8 966.2 L471.2 976.2 L473.8 982.5 L476.2 980.0 L479.5 985.0 L482.5 983.8 L485.0 992.5 L487.0 1001.2 L488.8 997.5 L490.5 1010.0 L492.5 1018.8 L494.5 1005.0 L497.0 1002.5 L499.5 1010.0 L502.5 1017.5 L506.2 1015.0 L508.8 996.2 L511.2 1010.0 L514.5 1005.0 L517.5 1006.2 L521.2 1017.5 L525.0 1022.5 L528.8 1020.0 L531.2 1025.0 L533.0 1037.5 L534.5 1032.5 L535.8 1076.2 L537.0 1060.0 L538.8 1045.0 L540.5 1035.0 L542.5 1052.5 L545.0 1055.0 L547.5 1053.8 L549.5 1042.5 L552.5 1043.8 L555.0 1037.5 L557.5 1031.2 L561.2 1027.5 L563.8 1037.5 L566.2 1046.2 L570.0 1041.2 L573.8 1045.0 L576.2 1055.0 L578.8 1047.5 L581.2 1053.8 L585.0 1046.2 L590.0 1047.5 L593.8 1052.5 L597.5 1053.8 L601.2 1050.0 L605.0 1046.2 L608.8 1040.0 L612.5 1035.0 L614.5 1023.8 L616.2 1032.5 L620.0 1030.0 L623.8 1033.8 L627.5 1038.8 L630.0 1050.0 L631.8 1057.5 L633.8 1052.5 L637.5 1046.2 L640.0 1051.2 L643.8 1048.8 L647.5 1047.5 L651.2 1045.0 L655.0 1040.0 L657.5 1032.5 L660.0 1020.0 L662.5 1005.0 L664.5 1000.0 L666.2 1022.5 L668.8 1020.0 L671.2 1017.5 L673.8 1007.5 L676.2 1000.0 L678.8 992.5 L681.2 987.5 L685.0 988.8 L688.8 992.5 L691.2 990.0 L693.8 997.5 L696.2 1008.8 L698.8 1006.2 L702.5 1007.5 L706.2 1002.5 L710.0 993.8 L712.5 995.0 L716.2 998.8 L720.0 998.8 L725.0 997.5 L730.0 996.2 L735.0 992.5 L738.8 986.2 L742.5 990.0 L746.2 990.0 L750.0 991.2 L752.0 975.0 L755.0 966.2 L757.5 962.5 L760.0 942.5 L762.0 957.5 L765.0 950.0 L768.8 953.8 L772.5 952.5 L776.2 956.2 L778.8 962.5 L780.5 972.5 L783.8 968.8 L787.5 968.8 L791.2 967.5 L796.2 961.2 L801.2 963.8 L806.2 962.5 L811.2 958.8 L815.0 956.2 L818.8 948.8 L822.5 945.0 L827.5 943.8 L832.5 941.2 L837.5 937.5 L841.2 930.0 L843.8 925.0 L846.2 907.5 L848.0 925.0 L850.0 938.8 L852.5 930.0 L856.2 923.8 L860.0 915.0 L863.8 913.8 L867.5 905.0 L871.2 895.0 L874.5 897.5 L877.5 907.5 L880.0 920.0 L882.5 921.2 L885.0 912.5 L888.8 905.0 L892.5 900.0 L896.2 895.0 L898.8 877.5 L900.0 862.5 L900.8 870.0 L902.0 863.8 L903.8 862.5 L906.2 847.5 L908.8 837.5 L911.2 835.0 L913.8 822.5 L915.5 817.0 L917.5 826.2 L920.0 835.0 L923.8 830.0 L926.2 835.0 L928.8 837.5 L930.0 857.5 L931.2 835.0 L933.8 830.0 L936.2 827.5 L937.5 820.0 L940.0 802.5 L942.5 787.5 L945.0 783.8 L947.5 792.5 L950.0 773.8 L953.0 780.0 L955.0 790.0 L957.0 810.0 L958.8 795.0 L961.2 800.0 L963.8 787.5 L966.2 780.0 L968.8 760.0 L972.5 756.2 L975.0 757.5 L978.0 737.5 L981.2 735.0 L982.0 755.0 L983.8 732.5 L986.2 725.0 L988.8 707.5 L990.5 695.0 L992.5 680.0 L993.8 660.0 L995.5 665.0 L997.0 648.8 L998.0 657.5 L999.5 677.5 L1001.2 670.0 L1002.5 685.0 L1005.0 662.5 L1007.0 672.5 L1008.8 685.0 L1011.2 700.0 L1013.8 697.5 L1015.5 707.5 L1017.5 725.0 L1019.2 742.5 L1021.2 720.0 L1023.8 700.0 L1026.2 710.0 L1030.0 697.5 L1032.0 712.5 L1034.5 720.0 L1036.2 727.5 L1038.8 722.5 L1041.2 732.5 L1043.0 743.8 L1045.5 745.0 L1047.5 732.5 L1050.0 722.5 L1052.5 713.8 L1056.2 711.2 L1058.8 717.5 L1061.2 725.0 L1063.8 723.8 L1066.2 732.5 L1068.8 740.0 L1071.2 735.0 L1073.8 747.5 L1076.2 752.5 L1079.5 756.2 L1082.5 747.5 L1086.2 750.0 L1088.8 737.5 L1092.0 726.2 L1094.5 735.0 L1097.5 742.5 L1100.0 751.2 L1103.8 747.5 L1106.2 740.0 L1108.8 737.5 L1111.2 750.0 L1115.0 747.5 L1118.8 745.0 L1123.8 747.5 L1127.5 748.8 L1131.2 747.5 L1136.2 748.8 L1138.8 750.0 L1141.2 760.0 L1143.0 775.0 L1145.0 792.5 L1147.5 790.0 L1150.0 802.5 L1153.0 810.0 L1155.0 795.0 L1157.5 791.2 L1160.5 797.5 L1163.8 792.5 L1166.2 800.0 L1170.0 801.2 L1173.8 806.2 L1176.2 806.2 L1180.0 800.0 L1183.8 791.2 L1186.2 797.5 L1190.0 793.8 L1193.8 792.5 L1197.5 791.2 L1200.0 775.0 L1203.8 766.2 L1207.5 765.0 L1211.2 763.8 L1214.5 757.5 L1216.2 740.0 L1218.8 727.5 L1221.2 731.2 L1223.8 722.5 L1227.5 725.0 L1230.0 726.2 L1232.5 715.0 L1235.0 700.0 L1237.0 686.2 L1238.8 703.8 L1241.2 687.5 L1243.8 700.0 L1246.2 715.0 L1250.0 713.8 L1253.0 697.5 L1256.2 693.8 L1258.8 707.5 L1262.5 711.2 L1266.2 712.5 L1270.0 706.2 L1273.8 707.5 L1276.2 722.5 L1280.0 727.5 L1283.8 725.0 L1287.5 732.5 L1290.0 715.0 L1293.8 715.0 L1297.5 720.0 L1300.0 732.5 L1302.5 740.0 L1306.2 735.0 L1310.0 737.5 L1312.5 745.0 L1315.0 737.5 L1318.8 738.8 L1322.5 730.0 L1325.0 720.0 L1328.8 722.5 L1332.5 712.5 L1336.2 707.5 L1340.0 708.8 L1343.8 717.5 L1346.2 720.0 L1348.8 735.0 L1349.5 773.8 L1351.2 760.0 L1353.8 750.0 L1356.2 755.0 L1358.8 742.5 L1361.2 737.5 L1363.8 742.5 L1367.5 732.5 L1370.0 720.0 L1373.0 711.2 L1376.2 717.5 L1378.8 712.5 L1382.5 712.5 L1386.2 711.2 L1390.0 713.8 L1395.0 716.2 L1400.0 717.5 L1405.0 715.0 L1407.5 705.0 L1411.2 696.2 L1415.0 693.8 L1418.8 692.5 L1422.5 695.0 L1425.0 705.0 L1427.5 707.5 L1432.5 703.8 L1437.5 703.8 L1441.2 700.0 L1443.8 690.0 L1447.5 682.5 L1451.2 675.0 L1453.8 665.0 L1457.0 660.0 L1460.0 652.5 L1462.5 653.8 L1466.2 650.0 L1468.8 635.0 L1472.5 620.0 L1475.0 607.5 L1477.5 592.5 L1480.0 583.8 L1483.8 592.5 L1486.2 606.2 L1490.0 595.0 L1492.5 580.0 L1495.0 565.0 L1497.5 553.8 L1500.0 567.5 L1502.5 560.0 L1505.5 546.2 L1508.8 553.8 L1512.5 552.5 L1516.2 550.0 L1520.0 543.8 L1522.5 547.5 L1525.0 562.5 L1527.5 555.0 L1531.2 552.5 L1533.8 567.5 L1536.2 587.5 L1540.0 596.2 L1542.5 587.5 L1545.0 595.0 L1547.0 583.8 L1549.5 595.0 L1551.2 605.0 L1553.8 596.2 L1557.5 600.0 L1560.5 603.8 L1562.5 610.0 L1564.5 596.2 L1566.2 585.0 L1568.8 582.5 L1571.2 572.5 L1575.0 567.5 L1578.8 565.0 L1581.2 561.2 L1583.8 560.0 L1586.2 567.5 L1588.8 566.2 L1590.5 582.5 L1593.0 577.5 L1595.0 560.0 L1597.5 552.5 L1601.2 541.2 L1604.5 546.2 L1607.5 540.0 L1611.2 537.5 L1613.8 542.5 L1616.2 547.5 L1619.5 551.2 L1622.0 560.0 L1625.0 566.2 L1628.8 563.8 L1632.0 562.5 L1634.5 570.0 L1637.5 576.2 L1640.5 578.8 L1643.0 596.2 L1645.0 590.0 L1647.5 585.0 L1650.0 575.0 L1652.5 576.2 L1655.0 590.0 L1657.5 582.5 L1660.0 576.2 L1662.5 587.5 L1665.0 588.8 L1667.5 577.5 L1670.0 570.0 L1672.5 568.8 L1675.0 572.5 L1677.5 580.0 L1680.0 582.5 L1683.8 585.0 L1687.5 587.5 L1689.5 600.0 L1691.2 612.5 L1693.8 611.2 L1696.2 610.0 L1698.8 605.0 L1702.0 606.2 L1703.8 620.0 L1705.0 640.0 L1707.0 651.2 L1709.5 640.0 L1712.0 645.0 L1714.5 650.0 L1717.0 640.0 L1720.0 635.0 L1723.0 632.5 L1726.2 631.2 L1729.5 630.0 L1732.0 630.0 L1734.5 637.5 L1737.5 643.8 L1740.5 650.0 L1743.0 638.8 L1745.5 647.5 L1748.0 652.5 L1751.2 646.2 L1754.5 647.5 L1757.5 651.2 L1761.2 650.0 L1763.8 645.0 L1766.2 641.2 L1768.0 657.5 L1769.5 667.5 L1772.5 666.2 L1776.2 662.5 L1780.0 660.0 L1783.0 657.5 L1786.2 662.5 L1790.0 663.8 L1793.8 661.2 L1795.5 650.0 L1797.5 640.0 L1800.5 633.8 L1803.8 631.2 L1807.0 632.5 L1809.5 638.8 L1812.5 627.5 L1815.0 630.0 L1818.0 635.0 L1820.5 646.2 L1822.5 635.0 L1824.5 620.0 L1827.5 616.2 L1831.2 615.0 L1834.5 611.2 L1837.5 608.8 L1840.0 613.8 L1843.8 611.2 L1847.0 616.2 L1850.0 618.8 L1853.8 620.0 L1856.2 617.5 L1859.5 622.5 L1862.5 625.0 L1864.5 615.0 L1866.2 608.8 L1870.0 608.0 L1873.8 606.2 L1877.5 608.8 L1881.2 611.2 L1885.0 610.8 L1888.8 611.2 L1890.5 621.2 L1893.8 623.8 L1896.2 618.8 L1900.0 625.0 L1903.8 620.0 L1907.0 621.2 L1910.0 616.2 L1913.0 620.0 L1915.5 618.8 L1917.5 610.0 L1919.5 597.5 L1922.5 596.2 L1926.2 592.5 L1929.5 588.8 L1932.5 590.0 L1935.5 582.5 L1938.0 575.0 L1941.2 577.5 L1944.5 576.2 L1947.5 577.5 L1951.2 570.0 L1953.8 575.0 L1956.2 581.2 L1958.8 585.0 L1962.0 577.5 L1965.0 570.0 L1968.0 561.2 L1971.2 560.0 L1973.8 547.5 L1976.2 535.0 L1979.5 530.0 L1982.5 535.0 L1985.5 531.2 L1988.8 536.2 L1992.0 532.5 L1995.0 540.0 L1998.0 541.2 L2001.2 548.8 L2004.5 541.2 L2007.5 537.5 L2010.5 532.5 L2013.8 535.0 L2017.0 532.5 L2020.0 537.5 L2023.8 541.2 L2027.0 546.2 L2030.0 553.8 L2033.0 550.0 L2036.2 536.2 L2038.8 535.0 L2041.2 545.0 L2043.8 556.2 L2046.2 548.8 L2050.0 541.2 L2052.5 546.2 L2055.0 552.5 L2057.0 556.2 L2060.0 548.8 L2063.0 542.5 L2066.2 540.0 L2069.5 546.2 L2072.5 541.2 L2075.0 535.0 L2078.8 533.8 L2082.0 535.0 L2084.5 517.5 L2087.0 507.5 L2090.0 501.2 L2093.8 503.8 L2097.5 498.8 L2100.0 497.5 L2102.5 503.8 L2106.2 502.5 L2109.5 507.5 L2112.5 501.2 L2116.2 497.0 L2120.0 498.8 L2123.8 503.8 L2127.5 505.0 L2131.2 507.5 L2133.8 516.2 L2137.0 522.5 L2140.0 513.8 L2143.8 516.2 L2147.0 520.0 L2148.8 526.2 L2151.2 518.8 L2153.8 510.0 L2157.5 505.0 L2160.0 501.2 L2162.5 498.8 L2166.2 491.2 L2169.5 495.0 L2172.5 492.5 L2175.5 497.5 L2178.0 493.8 L2181.2 498.8 L2183.8 495.0 L2187.0 492.5 L2190.0 485.0 L2193.8 483.8 L2197.5 486.2 L2200.0 490.0 L2203.8 483.8 L2207.0 488.8 L2210.0 492.5 L2213.0 493.8 L2216.2 491.2 L2218.8 487.5 L2221.2 491.2 L2223.8 486.2 L2227.0 481.2 L2229.5 486.2 L2232.0 492.5 L2235.0 488.8 L2238.0 492.5 L2240.5 498.8 L2243.0 501.2 L2245.0 508.8 L2247.0 516.2 L2249.5 508.8 L2252.5 507.5 L2255.0 513.8 L2258.0 510.0 L2261.2 513.8 L2264.5 511.2 L2267.5 506.2 L2270.5 503.8 L2273.0 508.8 L2275.5 512.5 L2277.5 522.5 L2279.5 532.5 L2280.5 543.8 L2282.5 533.8 L2285.0 535.0 L2288.0 537.5" stroke="#000" stroke-width="4.8" fill="none" stroke-linejoin="round" stroke-linecap="round"/>
<path d="M2306.7 292.3V1171" stroke="#000" stroke-width="4.4" fill="none"/>
<text x="238" y="299.7" text-anchor="end" font-family="'Liberation Sans',sans-serif" font-size="23" fill="#666666">100</text>
<text x="238" y="404.0" text-anchor="end" font-family="'Liberation Sans',sans-serif" font-size="23" fill="#666666">50</text>
<text x="238" y="542.8" text-anchor="end" font-family="'Liberation Sans',sans-serif" font-size="23" fill="#666666">20</text>
<text x="238" y="647.7" text-anchor="end" font-family="'Liberation Sans',sans-serif" font-size="23" fill="#666666">10</text>
<text x="238" y="752.6" text-anchor="end" font-family="'Liberation Sans',sans-serif" font-size="23" fill="#666666">5</text>
<text x="238" y="891.4" text-anchor="end" font-family="'Liberation Sans',sans-serif" font-size="23" fill="#666666">2</text>
<text x="238" y="996.3" text-anchor="end" font-family="'Liberation Sans',sans-serif" font-size="23" fill="#666666">1</text>
<text x="238" y="1101.2" text-anchor="end" font-family="'Liberation Sans',sans-serif" font-size="23" fill="#666666">0.5</text>
<text x="2322.4" y="300.3" font-family="'Liberation Sans',sans-serif" font-size="23.4" fill="#666666" textLength="43.3" lengthAdjust="spacingAndGlyphs">$1m</text>
<text x="2322.4" y="508.3" font-family="'Liberation Sans',sans-serif" font-size="23.4" fill="#666666" textLength="65.0" lengthAdjust="spacingAndGlyphs">$100k</text>
<text x="2322.4" y="716.3" font-family="'Liberation Sans',sans-serif" font-size="23.4" fill="#666666" textLength="51.0" lengthAdjust="spacingAndGlyphs">$10k</text>
<text x="2322.4" y="924.3" font-family="'Liberation Sans',sans-serif" font-size="23.4" fill="#666666" textLength="36.3" lengthAdjust="spacingAndGlyphs">$1k</text>
<text x="2322.4" y="1132.3" font-family="'Liberation Sans',sans-serif" font-size="23.4" fill="#666666" textLength="52.7" lengthAdjust="spacingAndGlyphs">$100</text>
<text x="344.4" y="1225.6" font-family="'Liberation Sans',sans-serif" font-size="25.5" fill="#666666" textLength="56.8" lengthAdjust="spacingAndGlyphs">2014</text>
<text x="502.5" y="1225.6" font-family="'Liberation Sans',sans-serif" font-size="25.5" fill="#666666" textLength="55.8" lengthAdjust="spacingAndGlyphs">2015</text>
<text x="660.1" y="1225.6" font-family="'Liberation Sans',sans-serif" font-size="25.5" fill="#666666" textLength="56.0" lengthAdjust="spacingAndGlyphs">2016</text>
<text x="818.4" y="1225.6" font-family="'Liberation Sans',sans-serif" font-size="25.5" fill="#666666" textLength="54.8" lengthAdjust="spacingAndGlyphs">2017</text>
<text x="975.3" y="1225.6" font-family="'Liberation Sans',sans-serif" font-size="25.5" fill="#666666" textLength="56.2" lengthAdjust="spacingAndGlyphs">2018</text>
<text x="1133.0" y="1225.6" font-family="'Liberation Sans',sans-serif" font-size="25.5" fill="#666666" textLength="56.0" lengthAdjust="spacingAndGlyphs">2019</text>
<text x="1288.0" y="1225.6" font-family="'Liberation Sans',sans-serif" font-size="25.5" fill="#666666" textLength="61.5" lengthAdjust="spacingAndGlyphs">2020</text>
<text x="1448.5" y="1225.6" font-family="'Liberation Sans',sans-serif" font-size="25.5" fill="#666666" textLength="55.8" lengthAdjust="spacingAndGlyphs">2021</text>
<text x="1603.7" y="1225.6" font-family="'Liberation Sans',sans-serif" font-size="25.5" fill="#666666" textLength="60.7" lengthAdjust="spacingAndGlyphs">2022</text>
<text x="1761.1" y="1225.6" font-family="'Liberation Sans',sans-serif" font-size="25.5" fill="#666666" textLength="61.3" lengthAdjust="spacingAndGlyphs">2023</text>
<text x="1918.5" y="1225.6" font-family="'Liberation Sans',sans-serif" font-size="25.5" fill="#666666" textLength="61.7" lengthAdjust="spacingAndGlyphs">2024</text>
<text x="2076.6" y="1225.6" font-family="'Liberation Sans',sans-serif" font-size="25.5" fill="#666666" textLength="60.7" lengthAdjust="spacingAndGlyphs">2025</text>
<text x="2234.2" y="1225.6" font-family="'Liberation Sans',sans-serif" font-size="25.5" fill="#666666" textLength="61.0" lengthAdjust="spacingAndGlyphs">2026</text>
<text y="103.7" font-family="'Liberation Sans',sans-serif" font-size="47.5" fill="#000" stroke="#000" stroke-width="0.4"><tspan x="64.01" textLength="107.66" lengthAdjust="spacingAndGlyphs">BTC:</tspan> <tspan x="183.14" textLength="191.87" lengthAdjust="spacingAndGlyphs">Realized</tspan> <tspan x="390.50" textLength="242.81" lengthAdjust="spacingAndGlyphs">Profit/Loss</tspan> <tspan x="649.44" textLength="113.26" lengthAdjust="spacingAndGlyphs">Ratio</tspan> <tspan x="777.77" textLength="106.18" lengthAdjust="spacingAndGlyphs">(90d</tspan> <tspan x="898.03" textLength="164.57" lengthAdjust="spacingAndGlyphs">Moving</tspan> <tspan x="1078.75" textLength="202.98" lengthAdjust="spacingAndGlyphs">Average)</tspan></text>
<circle cx="83.4" cy="169" r="6.5" fill="#f7931a"/>
<text y="176.8" font-family="'Liberation Sans',sans-serif" font-size="19.3" fill="#000" stroke="#000" stroke-width="0.25"><tspan x="95.91" textLength="43.54" lengthAdjust="spacingAndGlyphs">BTC:</tspan> <tspan x="144.02" textLength="73.59" lengthAdjust="spacingAndGlyphs">Realized</tspan> <tspan x="223.39" textLength="92.26" lengthAdjust="spacingAndGlyphs">Profit/Loss</tspan> <tspan x="321.53" textLength="43.57" lengthAdjust="spacingAndGlyphs">Ratio</tspan> <tspan x="371.53" textLength="37.26" lengthAdjust="spacingAndGlyphs">(90d</tspan> <tspan x="415.00" textLength="40.40" lengthAdjust="spacingAndGlyphs">sma)</tspan></text>
<circle cx="505.6" cy="169.3" r="6.5" fill="#000"/>
<text y="176.8" font-family="'Liberation Sans',sans-serif" font-size="19.3" fill="#000" stroke="#000" stroke-width="0.25"><tspan x="518.41" textLength="43.54" lengthAdjust="spacingAndGlyphs">BTC:</tspan> <tspan x="567.09" textLength="44.24" lengthAdjust="spacingAndGlyphs">Price</tspan> <tspan x="617.14" textLength="49.15" lengthAdjust="spacingAndGlyphs">[USD]</tspan></text>
<text y="1375.6" font-family="'Liberation Sans',sans-serif" font-size="31.4" fill="#828282" stroke="#828282" stroke-width="0.35"><tspan x="66.25" textLength="23.88" lengthAdjust="spacingAndGlyphs">©</tspan> <tspan x="102.63" textLength="77.88" lengthAdjust="spacingAndGlyphs">2026</tspan> <tspan x="190.19" textLength="168.96" lengthAdjust="spacingAndGlyphs">Glassnode.</tspan> <tspan x="367.50" textLength="37.10" lengthAdjust="spacingAndGlyphs">All</tspan> <tspan x="414.16" textLength="92.81" lengthAdjust="spacingAndGlyphs">Rights</tspan> <tspan x="517.89" textLength="151.24" lengthAdjust="spacingAndGlyphs">Reserved.</tspan></text>
<text x="2036.9 2074.5 2089.0 2125.9 2152.9 2182.1 2218.4 2256.3 2294.5" y="1385.4" font-family="'Liberation Sans',sans-serif" font-size="66" fill="#1b1b1b" stroke="#1b1b1b" stroke-width="0.5" stroke-linejoin="round" transform="scale(1.07,1)">glassnode</text>
</svg>
</body></html>
